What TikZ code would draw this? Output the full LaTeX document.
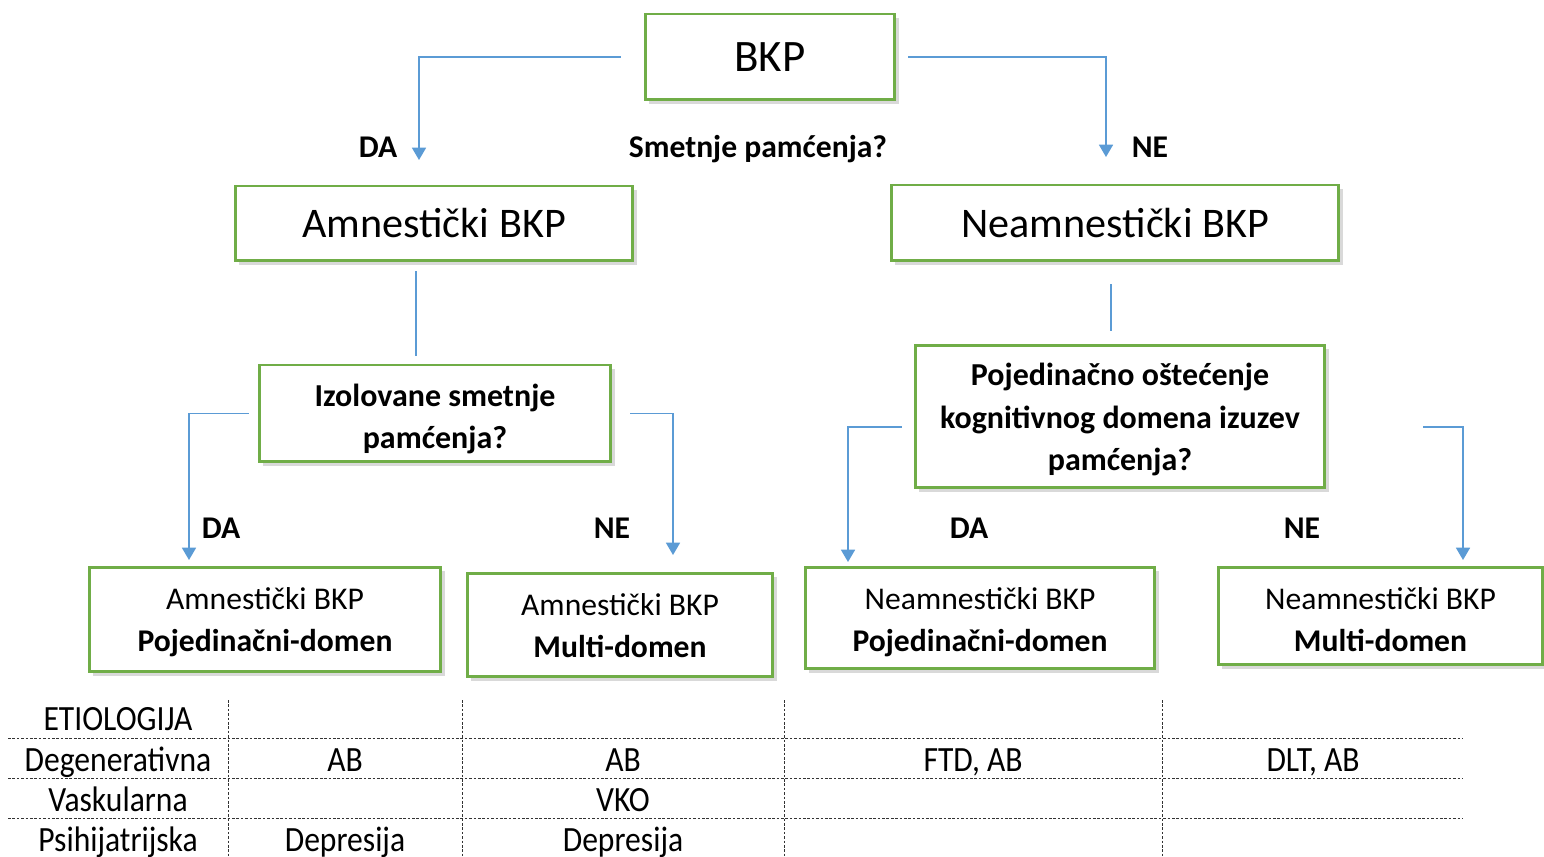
\documentclass[tikz,border=0pt]{standalone}
\usepackage{fontspec}
\setmainfont{Carlito}
\newfontfamily\tablefont[FakeStretch=0.89]{Carlito}
\usetikzlibrary{arrows.meta,shadows}
\definecolor{boxgreen}{HTML}{70AD47}
\definecolor{linkblue}{HTML}{5B9BD5}
\tikzset{
  box/.style={draw=boxgreen, line width=1.7pt, fill=white, align=center, inner sep=0pt,
    drop shadow={shadow xshift=2.5pt, shadow yshift=-2.5pt, opacity=0.3}},
  link/.style={draw=linkblue, line width=0.8pt},
  tip/.style={-{Triangle[width=8pt,length=7pt]}},
  lbl/.style={font=\fontsize{18}{22}\selectfont\bfseries, anchor=base},
  cell/.style={font=\tablefont\fontsize{20.2}{24}\selectfont, anchor=base},
  grid/.style={draw=black!80, line width=0.5pt, dash pattern=on 1.5pt off 1pt},
}
\begin{document}
\begin{tikzpicture}[x=0.02cm, y=-0.02cm]
\useasboundingbox (0,0) rectangle (1544,857);
\node[box, minimum width=5cm, minimum height=1.72cm, font=\fontsize{25.6}{30}\selectfont] (bkp) at (770,57) {BKP};
\node[box, minimum width=7.96cm, minimum height=1.5cm, font=\fontsize{24}{28}\selectfont] (amn) at (434,223.5) {Amnestički BKP};
\node[box, minimum width=8.96cm, minimum height=1.52cm, font=\fontsize{24}{28}\selectfont] (neamn) at (1115,223) {Neamnestički BKP};
\node[box, minimum width=7.04cm, minimum height=1.94cm, text height=39.6pt, text depth=0pt, font=\fontsize{18.2}{24}\selectfont\bfseries] (izol) at (435,413.5) {Izolovane smetnje\\pamćenja?};
\node[box, minimum width=8.2cm, minimum height=2.86cm, text height=61.2pt, text depth=0pt, font=\fontsize{18.2}{24}\selectfont\bfseries] (poj) at (1120,416.5) {Pojedinačno oštećenje\\kognitivnog domena izuzev\\pamćenja?};
\node[box, minimum width=7.04cm, minimum height=2.1cm, text height=36.2pt, text depth=0pt, font=\fontsize{18}{24}\selectfont] (amnpoj) at (265,619.5) {Amnestički BKP\\\textbf{Pojedinačni-domen}};
\node[box, minimum width=6.12cm, minimum height=2.08cm, text height=36.8pt, text depth=0pt, font=\fontsize{18}{24}\selectfont] (amnmul) at (620,625) {Amnestički BKP\\\textbf{Multi-domen}};
\node[box, minimum width=7cm, minimum height=2.04cm, text height=37.9pt, text depth=0pt, font=\fontsize{18}{24}\selectfont] (neapoj) at (980,618) {Neamnestički BKP\\\textbf{Pojedinačni-domen}};
\node[box, minimum width=6.5cm, minimum height=1.96cm, text height=40.2pt, text depth=0pt, font=\fontsize{18}{24}\selectfont] (neamul) at (1380.5,616) {Neamnestički BKP\\\textbf{Multi-domen}};

\coordinate (tipamn) at (419,160);
\coordinate (tipneamn) at (1106,157);
\coordinate (tipamnpoj) at (189,560);
\coordinate (tipamnmul) at (673,555);
\coordinate (tipneapoj) at (848,562);
\coordinate (tipneamul) at (1463,560);
\draw[link, tip, shorten <=0.46cm] (bkp.west) -| (tipamn);
\draw[link, tip, shorten <=0.24cm] (bkp.east) -| (tipneamn);
\draw[link] ([shift={(-18,9)}]amn.south) -- ([shift={(-19,-8)}]izol.north);
\draw[link] ([shift={(-4,22)}]neamn.south) -- ([shift={(-9,-13)}]poj.north);
\draw[link, tip, shorten <=0.18cm] (izol.west) -| (tipamnpoj);
\draw[link, tip, shorten <=0.36cm] (izol.east) -| (tipamnmul);
\draw[link, tip] ([shift={(-12,10.5)}]poj.west) -| (tipneapoj);
\draw[link, tip] ([shift={(97,10.5)}]poj.east) -| (tipneamul);

\node[lbl] (da1) at (378,158) {DA};
\node[lbl] (pitanje) at (758,158) {Smetnje pamćenja?};
\node[lbl] (ne1) at (1150,158) {NE};
\node[lbl] (da2) at (221,539) {DA};
\node[lbl] (ne2) at (612,539) {NE};
\node[lbl] (da3) at (969,539) {DA};
\node[lbl] (ne3) at (1302,539) {NE};

\foreach \y in {738,778,818}
  \draw[grid] (8,\y) -- (1463,\y);
\foreach \x in {228,462,784,1162}
  \draw[grid] (\x,700) -- (\x,857);
\foreach \x/\y/\t in {118/730/ETIOLOGIJA, 118/771/Degenerativna, 345/771/AB, 623/771/AB,
    973/771/{FTD, AB}, 1313/771/{DLT, AB}, 118/811/Vaskularna, 623/811/VKO,
    118/851/Psihijatrijska, 345/851/Depresija, 623/851/Depresija}
  \node[cell] (c-\x-\y) at (\x,\y) {\t};
\end{tikzpicture}
\end{document}
